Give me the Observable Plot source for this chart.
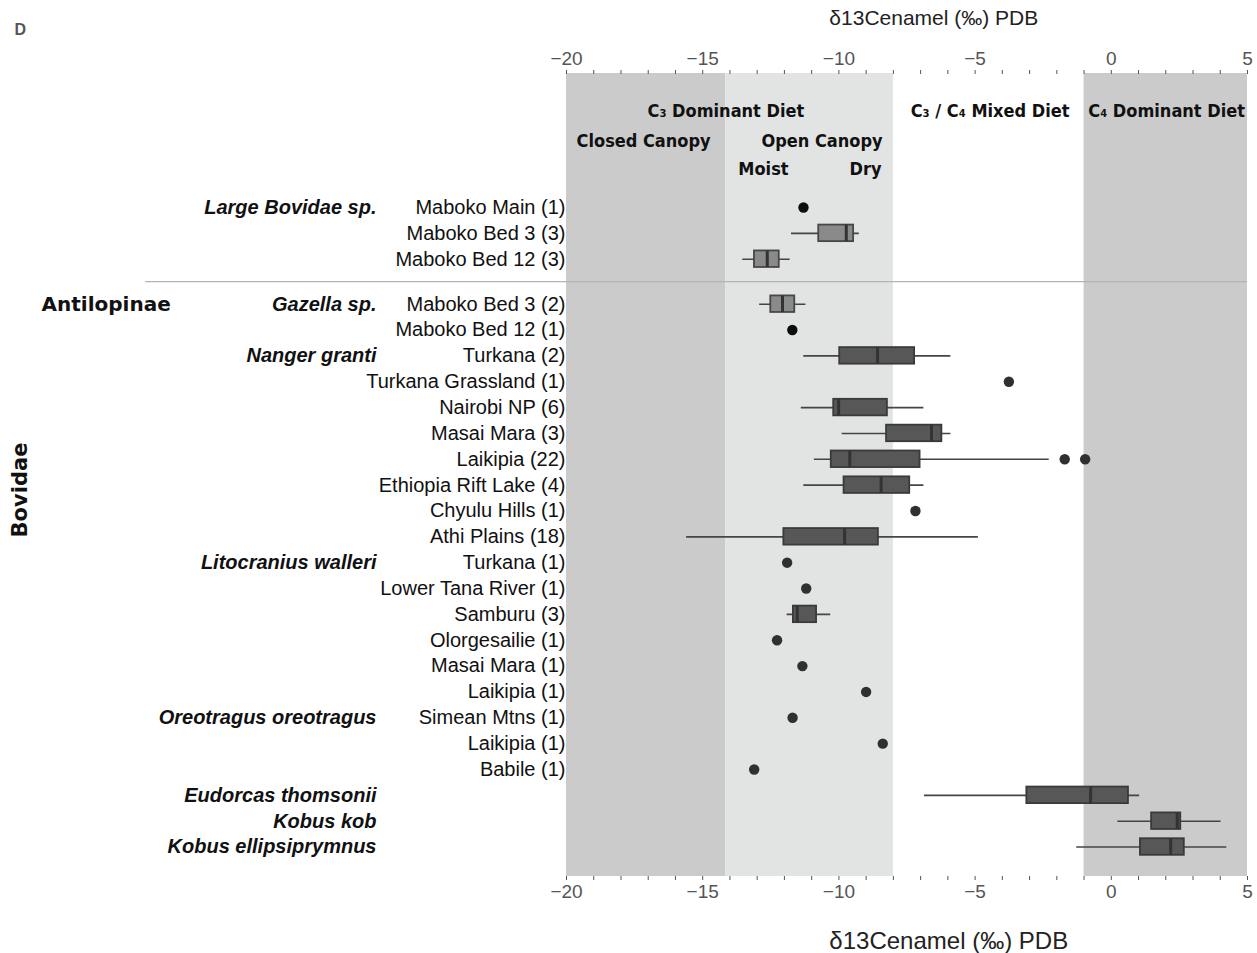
<!DOCTYPE html>
<html>
<head>
<meta charset="utf-8">
<script src="https://cdn.jsdelivr.net/npm/d3@7"></script>
<script src="https://cdn.jsdelivr.net/npm/@observablehq/plot@0.6"></script>
<style>
  html, body { margin: 0; padding: 0; background: #fff; }
  svg { display: block; }
</style>
</head>
<body>
<div id="chart"></div>
<script>
// ---------- data ----------
const rowLabels = [
  "Maboko Main (1)", "Maboko Bed 3 (3)", "Maboko Bed 12 (3)",
  "Maboko Bed 3 (2)", "Maboko Bed 12 (1)",
  "Turkana (2)", "Turkana Grassland (1)", "Nairobi NP (6)", "Masai Mara (3)",
  "Laikipia (22)", "Ethiopia Rift Lake (4)", "Chyulu Hills (1)", "Athi Plains (18)",
  "Turkana (1)", "Lower Tana River (1)", "Samburu (3)", "Olorgesailie (1)",
  "Masai Mara (1)", "Laikipia (1)",
  "Simean Mtns (1)", "Laikipia (1)", "Babile (1)",
  "", "", ""
];
const speciesNames = ["Large Bovidae sp.", "Gazella sp.", "Nanger granti", "Litocranius walleri",
  "Oreotragus oreotragus", "Eudorcas thomsonii", "Kobus kob", "Kobus ellipsiprymnus"];
const speciesRows = [0, 3, 5, 13, 19, 22, 23, 24];

const boxRows = [1, 2, 3, 5, 7, 8, 9, 10, 12, 15, 22, 23, 24];
const boxLo   = [-11.74, -13.53, -12.91, -11.29, -11.38, -9.88, -10.90, -11.29, -15.59, -11.90, -6.86, 0.24, -1.27];
const boxQ1   = [-10.74, -13.10, -12.50, -9.97, -10.19, -8.25, -10.28, -9.81, -12.02, -11.67, -3.10, 1.48, 1.07];
const boxMed  = [-9.73, -12.63, -12.07, -8.58, -10.01, -6.60, -9.60, -8.45, -9.79, -11.53, -0.76, 2.42, 2.18];
const boxQ3   = [-9.46, -12.19, -11.62, -7.22, -8.22, -6.22, -7.02, -7.40, -8.55, -10.82, 0.63, 2.55, 2.68];
const boxHi   = [-9.25, -11.79, -11.21, -5.89, -6.88, -5.89, -2.28, -6.88, -4.88, -10.30, 1.04, 4.03, 4.24];
const boxTone = ["light", "light", "light", "dark", "dark", "dark", "dark", "dark", "dark", "dark", "dark", "dark", "dark"];

const dotRows   = [0, 4, 6, 9, 9, 11, 13, 14, 16, 17, 18, 19, 20, 21];
const dotValues = [-11.30, -11.71, -3.76, -1.71, -0.96, -7.19, -11.90, -11.20, -12.27, -11.34, -9.00, -11.70, -8.39, -13.11];
const dotTone   = ["black", "black", "dark", "dark", "dark", "dark", "dark", "dark", "dark", "dark", "dark", "dark", "dark", "dark"];

const zoneStart = [-20, -14.15, -1];
const zoneEnd   = [-14.15, -8, 5];
const zoneTone  = ["dark", "light", "dark"];

const xTicks = d3.range(-20, 6);
const axisTitle = "δ13Cenamel (‰) PDB";

// ---------- layout helpers ----------
const groupGap = 0.74;
const ry = i => i + (i >= 3 ? groupGap : 0);
const boxHalf = 0.32;

const boxes = boxRows.map((r, i) => ({row: r, lo: boxLo[i], q1: boxQ1[i], med: boxMed[i], q3: boxQ3[i], hi: boxHi[i], tone: boxTone[i]}));
const dots = dotRows.map((r, i) => ({row: r, v: dotValues[i], tone: dotTone[i]}));
const zones = zoneStart.map((s, i) => ({x1: s, x2: zoneEnd[i], tone: zoneTone[i]}));
const rows = rowLabels.map((l, i) => ({row: i, label: l}));
const species = speciesNames.map((n, i) => ({row: speciesRows[i], name: n}));

const zoneFill = {dark: "#cbcbcb", light: "#e2e3e3"};
const boxFill = {light: "#8a8a8a", dark: "#575757"};
const boxStroke = {light: "#474747", dark: "#3a3a3a"};
const dotFill = {black: "#0d0d0d", dark: "#303030"};

const fmt = d => d % 5 === 0 ? (d < 0 ? "\u2212" + Math.abs(d) : String(d)) : "";
const sepY = (ry(2) + ry(3)) / 2;

const headFont = "'DejaVu Sans Condensed', 'Liberation Sans', sans-serif";
const head = (t, x, dy) => Plot.text([t], {x, frameAnchor: "top", dy, lineAnchor: "middle",
  fontSize: 18, fontWeight: "bold", fontFamily: headFont, fill: "#111"});

const chart = Plot.plot({
  width: 1257,
  height: 953,
  marginLeft: 566,
  marginRight: 10,
  marginTop: 73,
  marginBottom: 77,
  style: {fontFamily: "'Liberation Sans', Arial, Helvetica, sans-serif", background: "#fff"},
  x: {domain: [-20, 5]},
  y: {domain: [25.88, -5.184], axis: null},
  marks: [
    Plot.rect(zones, {x1: "x1", x2: "x2", fill: d => zoneFill[d.tone]}),
    Plot.ruleY([sepY], {x1: -35.45, x2: 5, stroke: "#b4b4b4", strokeWidth: 1.2}),
    // header annotations
    head("C\u2083 Dominant Diet", -14.15, 38),
    head("C\u2083 / C\u2084 Mixed Diet", -4.45, 38),
    head("C\u2084 Dominant Diet", 2.03, 38),
    head("Closed Canopy", -17.17, 68),
    head("Open Canopy", -10.62, 68),
    head("Moist", -12.77, 96),
    head("Dry", -9.02, 96),
    // boxplots
    Plot.ruleY(boxes, {y: d => ry(d.row), x1: "lo", x2: "hi", stroke: "#454545", strokeWidth: 1.6}),
    Plot.rect(boxes, {x1: "q1", x2: "q3", y1: d => ry(d.row) - boxHalf, y2: d => ry(d.row) + boxHalf,
      fill: d => boxFill[d.tone], stroke: d => boxStroke[d.tone], strokeWidth: 1.8}),
    Plot.ruleX(boxes, {x: "med", y1: d => ry(d.row) - boxHalf, y2: d => ry(d.row) + boxHalf, stroke: "#333", strokeWidth: 3}),
    Plot.dot(dots, {x: "v", y: d => ry(d.row), r: 5.2, fill: d => dotFill[d.tone], stroke: "none"}),
    // axes
    Plot.axisX(xTicks, {anchor: "top", tickFormat: fmt, tickSize: 4, tickPadding: 5, fontSize: 19, color: "#555", label: null}),
    Plot.axisX(xTicks, {anchor: "bottom", tickFormat: fmt, tickSize: 4, tickPadding: 4, fontSize: 19, color: "#555", label: null}),
    Plot.text([axisTitle], {x: -10.35, frameAnchor: "top", dy: -55, lineAnchor: "middle", textAnchor: "start", fontSize: 21, fill: "#222"}),
    Plot.text([axisTitle], {x: -10.35, frameAnchor: "bottom", dy: 65, lineAnchor: "middle", textAnchor: "start", fontSize: 24, fill: "#222"}),
    // left labels
    Plot.text(rows, {y: d => ry(d.row), text: "label", frameAnchor: "left", dx: -1, textAnchor: "end", fontSize: 20, fill: "#111"}),
    Plot.text(species, {y: d => ry(d.row), text: "name", frameAnchor: "left", dx: -190, textAnchor: "end",
      fontSize: 20, fontWeight: "bold", fontStyle: "italic", fill: "#111"}),
    Plot.text(["Antilopinae"], {y: ry(3), frameAnchor: "left", dx: -525, textAnchor: "start",
      fontSize: 20, fontWeight: "bold", fontFamily: "'DejaVu Sans', sans-serif", fill: "#111"}),
    Plot.text(["Bovidae"], {frameAnchor: "left", dx: -546, dy: 15, rotate: -90, textAnchor: "middle", lineAnchor: "middle",
      fontSize: 21, fontWeight: "bold", fontFamily: "'DejaVu Sans', sans-serif", fill: "#111"}),
    Plot.text(["D"], {frameAnchor: "top-left", dx: -552, dy: -44, textAnchor: "start", lineAnchor: "middle",
      fontSize: 16, fontWeight: "bold", fill: "#555"})
  ]
});
document.getElementById("chart").appendChild(chart);
</script>
</body>
</html>
